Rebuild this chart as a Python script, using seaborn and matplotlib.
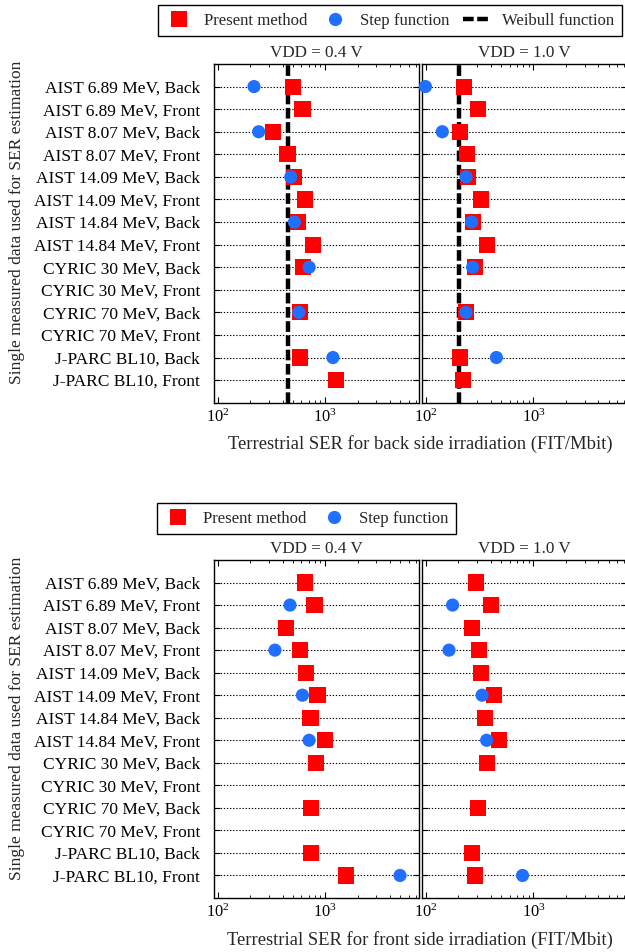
import numpy as np
import pandas as pd
import matplotlib
matplotlib.use("Agg")
import matplotlib.pyplot as plt
from matplotlib.lines import Line2D
import seaborn as sns

nan = np.nan
categories = ["AIST 6.89 MeV, Back", "AIST 6.89 MeV, Front",
              "AIST 8.07 MeV, Back", "AIST 8.07 MeV, Front",
              "AIST 14.09 MeV, Back", "AIST 14.09 MeV, Front",
              "AIST 14.84 MeV, Back", "AIST 14.84 MeV, Front",
              "CYRIC 30 MeV, Back", "CYRIC 30 MeV, Front",
              "CYRIC 70 MeV, Back", "CYRIC 70 MeV, Front",
              "J-PARC BL10, Back", "J-PARC BL10, Front"]

back_04_present = [502, 614, 327, 445, 513, 646, 556, 767, 619, nan, 580, nan, 583, 1268]
back_04_step = [217, nan, 240, nan, 478, nan, 517, nan, 708, nan, 568, nan, 1180, nan]
back_10_present = [224, 305, 209, 241, 248, 325, 274, 370, 286, nan, 236, nan, 209, 223]
back_10_step = [99, nan, 142, nan, 236, nan, 266, nan, 272, nan, 236, nan, 452, nan]
weibull_back = {"0.4": 448, "1.0": 205}

front_04_present = [649, 794, 431, 583, 663, 847, 729, 1000, 824, nan, 740, nan, 740, 1574]
front_04_step = [nan, 470, nan, 340, nan, 613, nan, 708, nan, nan, nan, nan, nan, 4975]
front_10_present = [292, 403, 270, 312, 325, 431, 355, 479, 370, nan, 305, nan, 270, 286]
front_10_step = [nan, 177, nan, 164, nan, 333, nan, 367, nan, nan, nan, nan, nan, 791]

vdd_titles = ["VDD = 0.4 V", "VDD = 1.0 V"]
xlabels = ["Terrestrial SER for back side irradiation (FIT/Mbit)",
           "Terrestrial SER for front side irradiation (FIT/Mbit)"]
ylabel = "Single measured data used for SER estimation"
methods = ["Present method", "Step function"]

RED = "#ff0000"
BLUE = "#2070ff"

sns.set_style("ticks")
plt.rcParams["font.family"] = ["Liberation Serif", "DejaVu Serif"]
plt.rcParams["mathtext.fontset"] = "custom"
plt.rcParams["mathtext.rm"] = "Liberation Serif"
plt.rcParams["mathtext.it"] = "Liberation Serif:italic"
plt.rcParams["axes.edgecolor"] = "black"

FS_YT = 12.5
FS_XT = 11.8
FS_TITLE = 12.3
FS_XLAB = 13.4
FS_YLAB = 12.5
FS_LEG = 12.1

W, H = 625, 952
fig = plt.figure(figsize=(W / 100, H / 100), dpi=100)


def ax_at(x0, y0, x1, y1):
    return fig.add_axes([x0 / W, 1 - y1 / H, (x1 - x0) / W, (y1 - y0) / H])


def make_df(present, step):
    rows = []
    for m, vals in zip(methods, [present, step]):
        for i, v in enumerate(vals):
            if not np.isnan(v):
                rows.append({"row": i, "value": v, "method": m})
    return pd.DataFrame(rows)


def draw_panel(ax, present, step, title, weib=None, show_labels=True):
    ax.set_xscale("log")
    ax.set_xlim(92, 7400)
    ax.set_ylim(14, -1)
    ax.set_yticks(range(len(categories)))
    if show_labels:
        ax.set_yticklabels(categories, fontsize=FS_YT)
    else:
        ax.set_yticklabels([])
    ax.grid(axis="y", color="black", linestyle=(0, (1.2, 1.6)), linewidth=0.8)
    ax.set_axisbelow(True)
    if weib is not None:
        ax.axvline(weib, color="black", lw=3.2, ls=(0, (2.4, 0.8)), zorder=1.5)
    df = make_df(present, step)
    sns.scatterplot(data=df, x="value", y="row", hue="method", style="method",
                    size="method", sizes={"Present method": 135, "Step function": 90},
                    markers={"Present method": "s", "Step function": "o"},
                    palette={"Present method": RED, "Step function": BLUE},
                    linewidth=0, legend=False, ax=ax, clip_on=False, zorder=3)
    ax.set_xlabel("")
    ax.set_ylabel("")
    ax.tick_params(which="both", direction="in", top=True, right=True, colors="black")
    ax.tick_params(axis="x", labelsize=FS_XT, pad=4)
    ax.tick_params(axis="y", pad=10)
    ax.tick_params(which="major", length=4, width=0.8)
    ax.tick_params(which="minor", length=2.5, width=0.6)
    for s in ax.spines.values():
        s.set_linewidth(1.0)
    ax.set_title(title, fontsize=FS_TITLE, pad=5)


# top figure
a1 = ax_at(214, 64, 418.5, 402.7)
a2 = ax_at(422, 64, 627, 402.7)
draw_panel(a1, back_04_present, back_04_step, vdd_titles[0], weibull_back["0.4"])
draw_panel(a2, back_10_present, back_10_step, vdd_titles[1], weibull_back["1.0"], show_labels=False)
fig.text(420 / W, 1 - 444 / H, xlabels[0], ha="center", va="center", fontsize=FS_XLAB)
fig.text(17 / W, 1 - 222 / H, ylabel, ha="center", va="center", rotation=90, fontsize=FS_YLAB)

# bottom figure
b1 = ax_at(214, 560, 418.5, 898)
b2 = ax_at(422, 560, 627, 898)
draw_panel(b1, front_04_present, front_04_step, vdd_titles[0])
draw_panel(b2, front_10_present, front_10_step, vdd_titles[1], show_labels=False)
fig.text(420 / W, 1 - 940 / H, xlabels[1], ha="center", va="center", fontsize=FS_XLAB)
fig.text(17 / W, 1 - 718 / H, ylabel, ha="center", va="center", rotation=90, fontsize=FS_YLAB)

h_present = Line2D([], [], marker="s", color=RED, linestyle="none", markersize=11.5, markeredgewidth=0)
h_step = Line2D([], [], marker="o", color=BLUE, linestyle="none", markersize=9.5, markeredgewidth=0)
h_weib = Line2D([], [], color="black", lw=3.2, ls=(0, (2.4, 0.8)))

leg_kw = dict(loc="upper left", frameon=True, fancybox=False, edgecolor="black",
              framealpha=1, fontsize=FS_LEG, handlelength=1.6, handletextpad=0.7,
              columnspacing=0.82, borderpad=0.45, borderaxespad=0)
l1 = fig.legend([h_present, h_step, h_weib], ["Present method", "Step function", "Weibull function"],
                ncol=3, bbox_to_anchor=(158 / W, 1 - 5 / H), **leg_kw)
l1.get_frame().set_linewidth(1.0)
l2 = fig.legend([h_present, h_step], ["Present method", "Step function"],
                ncol=2, bbox_to_anchor=(157 / W, 1 - 503 / H), **leg_kw)
l2.get_frame().set_linewidth(1.0)

fig.savefig("out.png", dpi=100)
